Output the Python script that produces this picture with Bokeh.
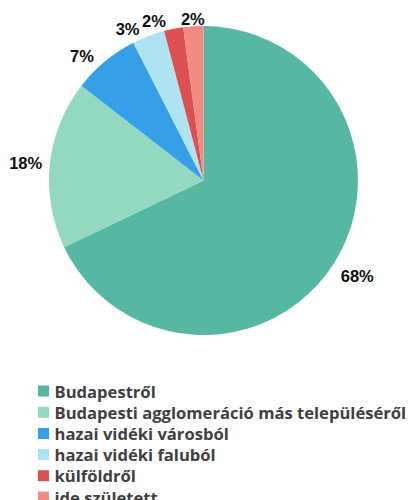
import math
from bokeh.plotting import figure
from bokeh.models import ColumnDataSource, Range1d
from bokeh.embed import file_html
from bokeh.resources import INLINE
from bokeh.core.properties import value

categories = ["Budapestről", "Budapesti agglomeráció más településéről",
              "hazai vidéki városból", "hazai vidéki faluból", "külföldről", "ide született"]
shares = [67.9, 17.6, 7.0, 3.4, 2.0, 2.1]
colors = ["#56B8A2", "#93D9BF", "#35A0E8", "#AEE4F2", "#DD5052", "#F28B84"]

W, H = 409, 500
R_PX = 154.5
CX, CY = 203.0, 180.0

p = figure(width=W, height=H, output_backend="svg", toolbar_location=None,
           min_border=0, outline_line_color=None)
p.x_range = Range1d(-CX / R_PX, (W - CX) / R_PX)
p.y_range = Range1d(-(H - CY) / R_PX, CY / R_PX)
p.axis.visible = False
p.grid.visible = False

total = sum(shares)
cum = 0.0
starts, ends, mids = [], [], []
for s in shares:
    a0 = cum / total * 2 * math.pi
    cum += s
    a1 = cum / total * 2 * math.pi
    starts.append(math.pi / 2 - a0)
    ends.append(math.pi / 2 - a1)
    mids.append((a0 + a1) / 2)

for i, cat in enumerate(categories):
    src = ColumnDataSource(dict(x=[0], y=[0], start=[starts[i]], end=[ends[i]]))
    p.wedge(x="x", y="y", radius=1, start_angle="start", end_angle="end",
            direction="clock", fill_color=colors[i], line_color=None, source=src)

# percentage labels placed just outside each slice
for i, m in enumerate(mids):
    sn, cs = math.sin(m), math.cos(m)
    rr = 1.05
    align = "right" if sn < -0.1 else ("left" if sn > 0.1 else "center")
    base = "top" if cs < -0.3 else ("alphabetic" if cs > 0.05 else "middle")
    dx = -0.04 if (align == "right" and cs > 0.5) else 0.0
    p.text(x=[rr * sn + dx], y=[rr * cs], text=[f"{round(shares[i])}%"],
           text_align=align, text_baseline=base,
           text_font=value("Liberation Sans"), text_font_style="bold",
           text_font_size="16.5px", text_color="#0d0d0d")

# legend below the pie (one row per category)
ROW0, ROW_STEP = 390.5, 21.2
leg_y = [(CY - (ROW0 + ROW_STEP * i)) / R_PX for i in range(len(categories))]
sq_x = [(43.0 - CX) / R_PX] * len(categories)
tx_x = [(54.0 - CX) / R_PX] * len(categories)
p.scatter(x=sq_x, y=leg_y, marker="square", size=11, fill_color=colors, line_color=None)
p.text(x=tx_x, y=leg_y, text=categories, text_align="left", text_baseline="middle",
       text_font=value("Open Sans"), text_font_style="bold", text_font_size="16.6px",
       text_color="#404040")

open("out.html", "w").write(file_html(p, INLINE))
